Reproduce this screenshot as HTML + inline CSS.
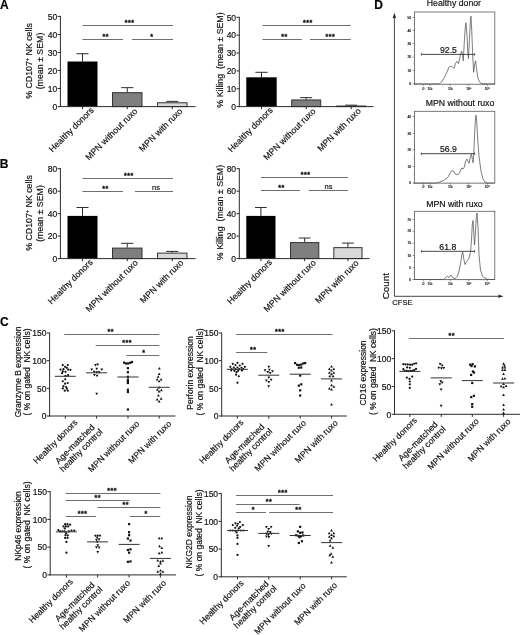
<!DOCTYPE html>
<html lang="en"><head><meta charset="utf-8"><title>Figure</title>
<style>
html,body{margin:0;padding:0;background:#fff;}
body{width:520px;height:635px;overflow:hidden;}
svg{display:block;filter:blur(0.35px);font-family:'Liberation Sans', Arial, sans-serif;}
svg text{stroke:#111;stroke-width:0.18px;font-family:'Liberation Sans', Arial, sans-serif;}
</style></head><body>
<svg width="520" height="635" viewBox="0 0 520 635">
<rect width="520" height="635" fill="#fff"/>
<text x="0.10" y="8.70" font-size="12" text-anchor="start" font-weight="bold" fill="#000" >A</text>
<line x1="82.50" y1="53.74" x2="82.50" y2="61.50" stroke="#2a2a2a" stroke-width="1.0" />
<line x1="76.50" y1="53.74" x2="88.50" y2="53.74" stroke="#2a2a2a" stroke-width="1.0" />
<rect x="67.50" y="61.50" width="30.00" height="45.10" fill="#000"/>
<line x1="82.50" y1="106.60" x2="82.50" y2="109.20" stroke="#2a2a2a" stroke-width="1.0" />
<line x1="127.25" y1="87.66" x2="127.25" y2="92.17" stroke="#2a2a2a" stroke-width="1.0" />
<line x1="121.15" y1="87.66" x2="133.35" y2="87.66" stroke="#2a2a2a" stroke-width="1.0" />
<rect x="112.50" y="92.67" width="29.50" height="13.93" fill="#7f7f7f" stroke="#333" stroke-width="1"/>
<line x1="127.25" y1="106.60" x2="127.25" y2="109.20" stroke="#2a2a2a" stroke-width="1.0" />
<line x1="172.25" y1="101.37" x2="172.25" y2="102.27" stroke="#2a2a2a" stroke-width="1.0" />
<line x1="166.15" y1="101.37" x2="178.35" y2="101.37" stroke="#2a2a2a" stroke-width="1.0" />
<rect x="157.50" y="102.77" width="29.50" height="3.83" fill="#d9d9d9" stroke="#333" stroke-width="1"/>
<line x1="172.25" y1="106.60" x2="172.25" y2="109.20" stroke="#2a2a2a" stroke-width="1.0" />
<line x1="60.40" y1="15.90" x2="60.40" y2="107.10" stroke="#2a2a2a" stroke-width="1.0" />
<line x1="59.90" y1="106.60" x2="195.50" y2="106.60" stroke="#2a2a2a" stroke-width="1.0" />
<line x1="57.60" y1="106.60" x2="60.40" y2="106.60" stroke="#2a2a2a" stroke-width="1.0" />
<text x="57.20" y="109.80" font-size="8.5" text-anchor="end" fill="#111" >0</text>
<line x1="57.60" y1="88.56" x2="60.40" y2="88.56" stroke="#2a2a2a" stroke-width="1.0" />
<text x="57.20" y="91.76" font-size="8.5" text-anchor="end" fill="#111" >10</text>
<line x1="57.60" y1="70.52" x2="60.40" y2="70.52" stroke="#2a2a2a" stroke-width="1.0" />
<text x="57.20" y="73.72" font-size="8.5" text-anchor="end" fill="#111" >20</text>
<line x1="57.60" y1="52.48" x2="60.40" y2="52.48" stroke="#2a2a2a" stroke-width="1.0" />
<text x="57.20" y="55.68" font-size="8.5" text-anchor="end" fill="#111" >30</text>
<line x1="57.60" y1="34.44" x2="60.40" y2="34.44" stroke="#2a2a2a" stroke-width="1.0" />
<text x="57.20" y="37.64" font-size="8.5" text-anchor="end" fill="#111" >40</text>
<line x1="57.60" y1="16.40" x2="60.40" y2="16.40" stroke="#2a2a2a" stroke-width="1.0" />
<text x="57.20" y="19.60" font-size="8.5" text-anchor="end" fill="#111" >50</text>
<text x="32.30" y="61.00" font-size="8.8" text-anchor="middle" transform="rotate(-90 32.30 61.00)" fill="#111" >% CD107<tspan font-size="5.5" dy="-3">+</tspan><tspan dy="3"> </tspan>NK cells</text>
<text x="43.00" y="61.00" font-size="8.8" text-anchor="middle" transform="rotate(-90 43.00 61.00)" fill="#111" >(mean ± SEM)</text>
<line x1="82.50" y1="25.50" x2="173.00" y2="25.50" stroke="#666" stroke-width="0.95" />
<text x="129.65" y="25.00" font-size="7.0" text-anchor="middle" font-weight="bold" fill="#111" style="stroke-width:0.3px;letter-spacing:0.5px">***</text>
<line x1="82.50" y1="39.50" x2="123.00" y2="39.50" stroke="#666" stroke-width="0.95" />
<text x="105.65" y="39.00" font-size="7.0" text-anchor="middle" font-weight="bold" fill="#111" style="stroke-width:0.3px;letter-spacing:0.5px">**</text>
<line x1="132.00" y1="39.50" x2="173.00" y2="39.50" stroke="#666" stroke-width="0.95" />
<text x="151.85" y="39.00" font-size="7.0" text-anchor="middle" font-weight="bold" fill="#111" style="stroke-width:0.3px;letter-spacing:0.5px">*</text>
<text x="94.30" y="110.80" font-size="8.8" text-anchor="end" transform="rotate(-45 94.30 110.80)" fill="#111" >Healthy donors</text>
<text x="138.05" y="111.70" font-size="8.8" text-anchor="end" transform="rotate(-45 138.05 111.70)" fill="#111" >MPN without ruxo</text>
<text x="183.05" y="111.70" font-size="8.8" text-anchor="end" transform="rotate(-45 183.05 111.70)" fill="#111" >MPN with ruxo</text>
<line x1="261.50" y1="72.31" x2="261.50" y2="77.31" stroke="#2a2a2a" stroke-width="1.0" />
<line x1="255.42" y1="72.31" x2="267.58" y2="72.31" stroke="#2a2a2a" stroke-width="1.0" />
<rect x="246.30" y="77.31" width="30.40" height="29.29" fill="#000"/>
<line x1="261.50" y1="106.60" x2="261.50" y2="109.20" stroke="#2a2a2a" stroke-width="1.0" />
<line x1="306.20" y1="97.67" x2="306.20" y2="99.46" stroke="#2a2a2a" stroke-width="1.0" />
<line x1="300.20" y1="97.67" x2="312.20" y2="97.67" stroke="#2a2a2a" stroke-width="1.0" />
<rect x="291.70" y="99.96" width="29.00" height="6.64" fill="#7f7f7f" stroke="#333" stroke-width="1"/>
<line x1="306.20" y1="106.60" x2="306.20" y2="109.20" stroke="#2a2a2a" stroke-width="1.0" />
<line x1="351.20" y1="105.17" x2="351.20" y2="105.53" stroke="#2a2a2a" stroke-width="1.0" />
<line x1="345.20" y1="105.17" x2="357.20" y2="105.17" stroke="#2a2a2a" stroke-width="1.0" />
<rect x="336.70" y="106.03" width="29.00" height="0.57" fill="#d9d9d9" stroke="#333" stroke-width="1"/>
<line x1="351.20" y1="106.60" x2="351.20" y2="109.20" stroke="#2a2a2a" stroke-width="1.0" />
<line x1="239.30" y1="16.80" x2="239.30" y2="107.10" stroke="#2a2a2a" stroke-width="1.0" />
<line x1="238.80" y1="106.60" x2="373.50" y2="106.60" stroke="#2a2a2a" stroke-width="1.0" />
<line x1="236.50" y1="106.60" x2="239.30" y2="106.60" stroke="#2a2a2a" stroke-width="1.0" />
<text x="236.10" y="109.80" font-size="8.5" text-anchor="end" fill="#111" >0</text>
<line x1="236.50" y1="88.74" x2="239.30" y2="88.74" stroke="#2a2a2a" stroke-width="1.0" />
<text x="236.10" y="91.94" font-size="8.5" text-anchor="end" fill="#111" >10</text>
<line x1="236.50" y1="70.88" x2="239.30" y2="70.88" stroke="#2a2a2a" stroke-width="1.0" />
<text x="236.10" y="74.08" font-size="8.5" text-anchor="end" fill="#111" >20</text>
<line x1="236.50" y1="53.02" x2="239.30" y2="53.02" stroke="#2a2a2a" stroke-width="1.0" />
<text x="236.10" y="56.22" font-size="8.5" text-anchor="end" fill="#111" >30</text>
<line x1="236.50" y1="35.16" x2="239.30" y2="35.16" stroke="#2a2a2a" stroke-width="1.0" />
<text x="236.10" y="38.36" font-size="8.5" text-anchor="end" fill="#111" >40</text>
<line x1="236.50" y1="17.30" x2="239.30" y2="17.30" stroke="#2a2a2a" stroke-width="1.0" />
<text x="236.10" y="20.50" font-size="8.5" text-anchor="end" fill="#111" >50</text>
<text x="223.00" y="60.00" font-size="8.8" text-anchor="middle" transform="rotate(-90 223.00 60.00)" fill="#111" >% Killing&#160;&#160;(mean ± SEM)</text>
<line x1="262.50" y1="25.50" x2="350.80" y2="25.50" stroke="#666" stroke-width="0.95" />
<text x="307.85" y="25.00" font-size="7.0" text-anchor="middle" font-weight="bold" fill="#111" style="stroke-width:0.3px;letter-spacing:0.5px">***</text>
<line x1="262.50" y1="39.50" x2="301.80" y2="39.50" stroke="#666" stroke-width="0.95" />
<text x="284.45" y="39.00" font-size="7.0" text-anchor="middle" font-weight="bold" fill="#111" style="stroke-width:0.3px;letter-spacing:0.5px">**</text>
<line x1="310.00" y1="39.50" x2="350.80" y2="39.50" stroke="#666" stroke-width="0.95" />
<text x="330.45" y="39.00" font-size="7.0" text-anchor="middle" font-weight="bold" fill="#111" style="stroke-width:0.3px;letter-spacing:0.5px">***</text>
<text x="273.30" y="110.80" font-size="8.8" text-anchor="end" transform="rotate(-45 273.30 110.80)" fill="#111" >Healthy donors</text>
<text x="316.20" y="111.70" font-size="8.8" text-anchor="end" transform="rotate(-45 316.20 111.70)" fill="#111" >MPN without ruxo</text>
<text x="361.40" y="111.60" font-size="8.8" text-anchor="end" transform="rotate(-45 361.40 111.60)" fill="#111" >MPN with ruxo</text>
<text x="-0.30" y="168.00" font-size="12" text-anchor="start" font-weight="bold" fill="#000" >B</text>
<line x1="82.50" y1="207.47" x2="82.50" y2="215.90" stroke="#2a2a2a" stroke-width="1.0" />
<line x1="76.50" y1="207.47" x2="88.50" y2="207.47" stroke="#2a2a2a" stroke-width="1.0" />
<rect x="67.50" y="215.90" width="30.00" height="42.70" fill="#000"/>
<line x1="82.50" y1="258.60" x2="82.50" y2="261.20" stroke="#2a2a2a" stroke-width="1.0" />
<line x1="127.25" y1="243.32" x2="127.25" y2="247.59" stroke="#2a2a2a" stroke-width="1.0" />
<line x1="121.15" y1="243.32" x2="133.35" y2="243.32" stroke="#2a2a2a" stroke-width="1.0" />
<rect x="112.50" y="248.09" width="29.50" height="10.51" fill="#7f7f7f" stroke="#333" stroke-width="1"/>
<line x1="127.25" y1="258.60" x2="127.25" y2="261.20" stroke="#2a2a2a" stroke-width="1.0" />
<line x1="172.25" y1="251.41" x2="172.25" y2="252.64" stroke="#2a2a2a" stroke-width="1.0" />
<line x1="166.15" y1="251.41" x2="178.35" y2="251.41" stroke="#2a2a2a" stroke-width="1.0" />
<rect x="157.50" y="253.14" width="29.50" height="5.46" fill="#d9d9d9" stroke="#333" stroke-width="1"/>
<line x1="172.25" y1="258.60" x2="172.25" y2="261.20" stroke="#2a2a2a" stroke-width="1.0" />
<line x1="60.40" y1="168.20" x2="60.40" y2="259.10" stroke="#2a2a2a" stroke-width="1.0" />
<line x1="59.90" y1="258.60" x2="195.50" y2="258.60" stroke="#2a2a2a" stroke-width="1.0" />
<line x1="57.60" y1="258.60" x2="60.40" y2="258.60" stroke="#2a2a2a" stroke-width="1.0" />
<text x="57.20" y="261.80" font-size="8.5" text-anchor="end" fill="#111" >0</text>
<line x1="57.60" y1="236.12" x2="60.40" y2="236.12" stroke="#2a2a2a" stroke-width="1.0" />
<text x="57.20" y="239.32" font-size="8.5" text-anchor="end" fill="#111" >20</text>
<line x1="57.60" y1="213.65" x2="60.40" y2="213.65" stroke="#2a2a2a" stroke-width="1.0" />
<text x="57.20" y="216.85" font-size="8.5" text-anchor="end" fill="#111" >40</text>
<line x1="57.60" y1="191.18" x2="60.40" y2="191.18" stroke="#2a2a2a" stroke-width="1.0" />
<text x="57.20" y="194.38" font-size="8.5" text-anchor="end" fill="#111" >60</text>
<line x1="57.60" y1="168.70" x2="60.40" y2="168.70" stroke="#2a2a2a" stroke-width="1.0" />
<text x="57.20" y="171.90" font-size="8.5" text-anchor="end" fill="#111" >80</text>
<text x="32.30" y="213.00" font-size="8.8" text-anchor="middle" transform="rotate(-90 32.30 213.00)" fill="#111" >% CD107<tspan font-size="5.5" dy="-3">+</tspan><tspan dy="3"> </tspan>NK cells</text>
<text x="43.00" y="213.50" font-size="8.8" text-anchor="middle" transform="rotate(-90 43.00 213.50)" fill="#111" >(mean ± SEM)</text>
<line x1="82.50" y1="178.50" x2="173.00" y2="178.50" stroke="#666" stroke-width="0.95" />
<text x="128.80" y="178.00" font-size="7.0" text-anchor="middle" font-weight="bold" fill="#111" style="stroke-width:0.3px;letter-spacing:0.5px">***</text>
<line x1="82.50" y1="191.50" x2="123.00" y2="191.50" stroke="#666" stroke-width="0.95" />
<text x="105.45" y="191.00" font-size="7.0" text-anchor="middle" font-weight="bold" fill="#111" style="stroke-width:0.3px;letter-spacing:0.5px">**</text>
<line x1="135.00" y1="191.50" x2="173.00" y2="191.50" stroke="#666" stroke-width="0.95" />
<text x="156.00" y="190.00" font-size="7.5" text-anchor="middle" fill="#111" >ns</text>
<text x="93.30" y="262.80" font-size="8.8" text-anchor="end" transform="rotate(-45 93.30 262.80)" fill="#111" >Healthy donors</text>
<text x="138.45" y="263.40" font-size="8.8" text-anchor="end" transform="rotate(-45 138.45 263.40)" fill="#111" >MPN without ruxo</text>
<text x="184.05" y="263.30" font-size="8.8" text-anchor="end" transform="rotate(-45 184.05 263.30)" fill="#111" >MPN with ruxo</text>
<line x1="260.90" y1="207.47" x2="260.90" y2="215.90" stroke="#2a2a2a" stroke-width="1.0" />
<line x1="255.06" y1="207.47" x2="266.74" y2="207.47" stroke="#2a2a2a" stroke-width="1.0" />
<rect x="246.30" y="215.90" width="29.20" height="42.70" fill="#000"/>
<line x1="260.90" y1="258.60" x2="260.90" y2="261.20" stroke="#2a2a2a" stroke-width="1.0" />
<line x1="304.65" y1="238.04" x2="304.65" y2="242.08" stroke="#2a2a2a" stroke-width="1.0" />
<line x1="298.79" y1="238.04" x2="310.51" y2="238.04" stroke="#2a2a2a" stroke-width="1.0" />
<rect x="290.50" y="242.58" width="28.30" height="16.02" fill="#7f7f7f" stroke="#333" stroke-width="1"/>
<line x1="304.65" y1="258.60" x2="304.65" y2="261.20" stroke="#2a2a2a" stroke-width="1.0" />
<line x1="347.90" y1="243.09" x2="347.90" y2="247.14" stroke="#2a2a2a" stroke-width="1.0" />
<line x1="342.06" y1="243.09" x2="353.74" y2="243.09" stroke="#2a2a2a" stroke-width="1.0" />
<rect x="333.80" y="247.64" width="28.20" height="10.96" fill="#d9d9d9" stroke="#333" stroke-width="1"/>
<line x1="347.90" y1="258.60" x2="347.90" y2="261.20" stroke="#2a2a2a" stroke-width="1.0" />
<line x1="239.30" y1="168.20" x2="239.30" y2="259.10" stroke="#2a2a2a" stroke-width="1.0" />
<line x1="238.80" y1="258.60" x2="369.50" y2="258.60" stroke="#2a2a2a" stroke-width="1.0" />
<line x1="236.50" y1="258.60" x2="239.30" y2="258.60" stroke="#2a2a2a" stroke-width="1.0" />
<text x="236.10" y="261.80" font-size="8.5" text-anchor="end" fill="#111" >0</text>
<line x1="236.50" y1="236.12" x2="239.30" y2="236.12" stroke="#2a2a2a" stroke-width="1.0" />
<text x="236.10" y="239.32" font-size="8.5" text-anchor="end" fill="#111" >20</text>
<line x1="236.50" y1="213.65" x2="239.30" y2="213.65" stroke="#2a2a2a" stroke-width="1.0" />
<text x="236.10" y="216.85" font-size="8.5" text-anchor="end" fill="#111" >40</text>
<line x1="236.50" y1="191.18" x2="239.30" y2="191.18" stroke="#2a2a2a" stroke-width="1.0" />
<text x="236.10" y="194.38" font-size="8.5" text-anchor="end" fill="#111" >60</text>
<line x1="236.50" y1="168.70" x2="239.30" y2="168.70" stroke="#2a2a2a" stroke-width="1.0" />
<text x="236.10" y="171.90" font-size="8.5" text-anchor="end" fill="#111" >80</text>
<text x="223.00" y="212.50" font-size="8.8" text-anchor="middle" transform="rotate(-90 223.00 212.50)" fill="#111" >% Killing&#160;&#160;(mean ± SEM)</text>
<line x1="261.00" y1="177.50" x2="348.00" y2="177.50" stroke="#666" stroke-width="0.95" />
<text x="305.55" y="177.00" font-size="7.0" text-anchor="middle" font-weight="bold" fill="#111" style="stroke-width:0.3px;letter-spacing:0.5px">***</text>
<line x1="261.00" y1="190.50" x2="300.00" y2="190.50" stroke="#666" stroke-width="0.95" />
<text x="281.55" y="190.00" font-size="7.0" text-anchor="middle" font-weight="bold" fill="#111" style="stroke-width:0.3px;letter-spacing:0.5px">**</text>
<line x1="308.80" y1="190.50" x2="348.00" y2="190.50" stroke="#666" stroke-width="0.95" />
<text x="328.50" y="189.00" font-size="7.5" text-anchor="middle" fill="#111" >ns</text>
<text x="272.70" y="263.00" font-size="8.8" text-anchor="end" transform="rotate(-45 272.70 263.00)" fill="#111" >Healthy donors</text>
<text x="316.45" y="263.30" font-size="8.8" text-anchor="end" transform="rotate(-45 316.45 263.30)" fill="#111" >MPN without ruxo</text>
<text x="359.30" y="263.60" font-size="8.8" text-anchor="end" transform="rotate(-45 359.30 263.60)" fill="#111" >MPN with ruxo</text>
<text x="374.20" y="8.70" font-size="12" text-anchor="start" font-weight="bold" fill="#000" >D</text>
<line x1="394.40" y1="16.00" x2="394.40" y2="296.30" stroke="#333" stroke-width="0.9" />
<path d="M394.4 12.8 L392.6 18.6 L394.4 17.4 L396.2 18.6 Z" fill="#222"/>
<line x1="394.40" y1="296.30" x2="500.00" y2="296.30" stroke="#333" stroke-width="0.9" />
<path d="M503.6 296.3 L497.8 294.5 L499 296.3 L497.8 298.1 Z" fill="#222"/>
<text x="388.90" y="299.20" font-size="9.8" text-anchor="start" transform="rotate(-90 388.90 299.20)" fill="#111" >Count</text>
<text x="392.30" y="305.20" font-size="7.6" text-anchor="start" fill="#111" >CFSE</text>
<rect x="414.40" y="12.00" width="80.40" height="72.20" fill="none" stroke="#5a5a5a" stroke-width="0.8"/>
<text x="453.90" y="6.10" font-size="8.7" text-anchor="middle" fill="#111" >Healthy donor</text>
<line x1="412.40" y1="17.50" x2="414.40" y2="17.50" stroke="#444" stroke-width="0.5" />
<text x="411.20" y="18.65" font-size="3.3" text-anchor="end" fill="#333" >50</text>
<line x1="412.40" y1="30.40" x2="414.40" y2="30.40" stroke="#444" stroke-width="0.5" />
<text x="411.20" y="31.55" font-size="3.3" text-anchor="end" fill="#333" >40</text>
<line x1="412.40" y1="43.50" x2="414.40" y2="43.50" stroke="#444" stroke-width="0.5" />
<text x="411.20" y="44.65" font-size="3.3" text-anchor="end" fill="#333" >30</text>
<line x1="412.40" y1="57.00" x2="414.40" y2="57.00" stroke="#444" stroke-width="0.5" />
<text x="411.20" y="58.15" font-size="3.3" text-anchor="end" fill="#333" >20</text>
<line x1="412.40" y1="70.40" x2="414.40" y2="70.40" stroke="#444" stroke-width="0.5" />
<text x="411.20" y="71.55" font-size="3.3" text-anchor="end" fill="#333" >10</text>
<line x1="412.40" y1="83.80" x2="414.40" y2="83.80" stroke="#444" stroke-width="0.5" />
<text x="411.20" y="84.95" font-size="3.3" text-anchor="end" fill="#333" >0</text>
<line x1="413.30" y1="23.95" x2="414.40" y2="23.95" stroke="#666" stroke-width="0.4" />
<line x1="413.30" y1="36.95" x2="414.40" y2="36.95" stroke="#666" stroke-width="0.4" />
<line x1="413.30" y1="50.25" x2="414.40" y2="50.25" stroke="#666" stroke-width="0.4" />
<line x1="413.30" y1="63.70" x2="414.40" y2="63.70" stroke="#666" stroke-width="0.4" />
<line x1="413.30" y1="77.10" x2="414.40" y2="77.10" stroke="#666" stroke-width="0.4" />
<line x1="423.30" y1="84.20" x2="423.30" y2="86.00" stroke="#444" stroke-width="0.5" />
<text x="423.30" y="89.50" font-size="3.3" text-anchor="middle" fill="#333" >0</text>
<line x1="430.00" y1="84.20" x2="430.00" y2="86.00" stroke="#444" stroke-width="0.5" />
<text x="430.00" y="89.50" font-size="3.3" text-anchor="middle" fill="#333" >10²</text>
<line x1="450.30" y1="84.20" x2="450.30" y2="86.00" stroke="#444" stroke-width="0.5" />
<text x="450.30" y="89.50" font-size="3.3" text-anchor="middle" fill="#333" >10³</text>
<line x1="468.80" y1="84.20" x2="468.80" y2="86.00" stroke="#444" stroke-width="0.5" />
<text x="468.80" y="89.50" font-size="3.3" text-anchor="middle" fill="#333" >10⁴</text>
<line x1="487.30" y1="84.20" x2="487.30" y2="86.00" stroke="#444" stroke-width="0.5" />
<text x="487.30" y="89.50" font-size="3.3" text-anchor="middle" fill="#333" >10⁵</text>
<line x1="436.11" y1="84.20" x2="436.11" y2="85.20" stroke="#777" stroke-width="0.3" />
<line x1="439.69" y1="84.20" x2="439.69" y2="85.20" stroke="#777" stroke-width="0.3" />
<line x1="442.22" y1="84.20" x2="442.22" y2="85.20" stroke="#777" stroke-width="0.3" />
<line x1="444.19" y1="84.20" x2="444.19" y2="85.20" stroke="#777" stroke-width="0.3" />
<line x1="445.80" y1="84.20" x2="445.80" y2="85.20" stroke="#777" stroke-width="0.3" />
<line x1="447.16" y1="84.20" x2="447.16" y2="85.20" stroke="#777" stroke-width="0.3" />
<line x1="448.33" y1="84.20" x2="448.33" y2="85.20" stroke="#777" stroke-width="0.3" />
<line x1="449.37" y1="84.20" x2="449.37" y2="85.20" stroke="#777" stroke-width="0.3" />
<line x1="455.87" y1="84.20" x2="455.87" y2="85.20" stroke="#777" stroke-width="0.3" />
<line x1="459.13" y1="84.20" x2="459.13" y2="85.20" stroke="#777" stroke-width="0.3" />
<line x1="461.44" y1="84.20" x2="461.44" y2="85.20" stroke="#777" stroke-width="0.3" />
<line x1="463.23" y1="84.20" x2="463.23" y2="85.20" stroke="#777" stroke-width="0.3" />
<line x1="464.70" y1="84.20" x2="464.70" y2="85.20" stroke="#777" stroke-width="0.3" />
<line x1="465.93" y1="84.20" x2="465.93" y2="85.20" stroke="#777" stroke-width="0.3" />
<line x1="467.01" y1="84.20" x2="467.01" y2="85.20" stroke="#777" stroke-width="0.3" />
<line x1="467.95" y1="84.20" x2="467.95" y2="85.20" stroke="#777" stroke-width="0.3" />
<line x1="474.37" y1="84.20" x2="474.37" y2="85.20" stroke="#777" stroke-width="0.3" />
<line x1="477.63" y1="84.20" x2="477.63" y2="85.20" stroke="#777" stroke-width="0.3" />
<line x1="479.94" y1="84.20" x2="479.94" y2="85.20" stroke="#777" stroke-width="0.3" />
<line x1="481.73" y1="84.20" x2="481.73" y2="85.20" stroke="#777" stroke-width="0.3" />
<line x1="483.20" y1="84.20" x2="483.20" y2="85.20" stroke="#777" stroke-width="0.3" />
<line x1="484.43" y1="84.20" x2="484.43" y2="85.20" stroke="#777" stroke-width="0.3" />
<line x1="485.51" y1="84.20" x2="485.51" y2="85.20" stroke="#777" stroke-width="0.3" />
<line x1="486.45" y1="84.20" x2="486.45" y2="85.20" stroke="#777" stroke-width="0.3" />
<path d="M414.23 83.85 L439.62 83.85 L441.54 81.92 L443.46 79.04 L445.38 75.19 L447.31 71.35 L448.85 67.50 L450.19 66.15 L452.12 66.54 L454.04 68.46 L455.38 63.65 L456.92 61.35 L458.46 63.65 L459.62 58.85 L460.77 53.08 L461.73 51.15 L462.69 55.96 L463.27 60.77 L464.23 43.46 L465.19 28.08 L465.96 22.69 L466.92 33.85 L467.88 53.08 L468.46 58.46 L469.42 39.62 L470.38 20.38 L470.96 16.15 L471.73 30.00 L472.69 55.00 L473.65 72.31 L474.62 64.62 L475.58 60.77 L476.54 68.46 L477.69 77.12 L479.04 80.96 L480.96 83.46 L483.85 83.85 L495.00 83.85" fill="none" stroke="#505050" stroke-width="0.75" stroke-linejoin="round"/>
<line x1="421.40" y1="54.40" x2="474.60" y2="54.40" stroke="#333" stroke-width="0.9" />
<line x1="421.40" y1="53.20" x2="421.40" y2="55.60" stroke="#333" stroke-width="0.8" />
<line x1="474.60" y1="53.20" x2="474.60" y2="55.60" stroke="#333" stroke-width="0.8" />
<text x="448.50" y="52.80" font-size="8.7" text-anchor="middle" fill="#111" >92.5</text>
<rect x="414.40" y="111.30" width="80.40" height="71.80" fill="none" stroke="#5a5a5a" stroke-width="0.8"/>
<text x="460.00" y="106.00" font-size="8.7" text-anchor="middle" fill="#111" >MPN without ruxo</text>
<line x1="412.40" y1="116.50" x2="414.40" y2="116.50" stroke="#444" stroke-width="0.5" />
<text x="411.20" y="117.65" font-size="3.3" text-anchor="end" fill="#333" >40</text>
<line x1="412.40" y1="133.50" x2="414.40" y2="133.50" stroke="#444" stroke-width="0.5" />
<text x="411.20" y="134.65" font-size="3.3" text-anchor="end" fill="#333" >30</text>
<line x1="412.40" y1="149.80" x2="414.40" y2="149.80" stroke="#444" stroke-width="0.5" />
<text x="411.20" y="150.95" font-size="3.3" text-anchor="end" fill="#333" >20</text>
<line x1="412.40" y1="166.50" x2="414.40" y2="166.50" stroke="#444" stroke-width="0.5" />
<text x="411.20" y="167.65" font-size="3.3" text-anchor="end" fill="#333" >10</text>
<line x1="412.40" y1="183.00" x2="414.40" y2="183.00" stroke="#444" stroke-width="0.5" />
<text x="411.20" y="184.15" font-size="3.3" text-anchor="end" fill="#333" >0</text>
<line x1="413.30" y1="125.00" x2="414.40" y2="125.00" stroke="#666" stroke-width="0.4" />
<line x1="413.30" y1="141.65" x2="414.40" y2="141.65" stroke="#666" stroke-width="0.4" />
<line x1="413.30" y1="158.15" x2="414.40" y2="158.15" stroke="#666" stroke-width="0.4" />
<line x1="413.30" y1="174.75" x2="414.40" y2="174.75" stroke="#666" stroke-width="0.4" />
<line x1="423.30" y1="183.10" x2="423.30" y2="184.90" stroke="#444" stroke-width="0.5" />
<text x="423.30" y="188.40" font-size="3.3" text-anchor="middle" fill="#333" >0</text>
<line x1="430.00" y1="183.10" x2="430.00" y2="184.90" stroke="#444" stroke-width="0.5" />
<text x="430.00" y="188.40" font-size="3.3" text-anchor="middle" fill="#333" >10²</text>
<line x1="450.30" y1="183.10" x2="450.30" y2="184.90" stroke="#444" stroke-width="0.5" />
<text x="450.30" y="188.40" font-size="3.3" text-anchor="middle" fill="#333" >10³</text>
<line x1="468.80" y1="183.10" x2="468.80" y2="184.90" stroke="#444" stroke-width="0.5" />
<text x="468.80" y="188.40" font-size="3.3" text-anchor="middle" fill="#333" >10⁴</text>
<line x1="487.30" y1="183.10" x2="487.30" y2="184.90" stroke="#444" stroke-width="0.5" />
<text x="487.30" y="188.40" font-size="3.3" text-anchor="middle" fill="#333" >10⁵</text>
<line x1="436.11" y1="183.10" x2="436.11" y2="184.10" stroke="#777" stroke-width="0.3" />
<line x1="439.69" y1="183.10" x2="439.69" y2="184.10" stroke="#777" stroke-width="0.3" />
<line x1="442.22" y1="183.10" x2="442.22" y2="184.10" stroke="#777" stroke-width="0.3" />
<line x1="444.19" y1="183.10" x2="444.19" y2="184.10" stroke="#777" stroke-width="0.3" />
<line x1="445.80" y1="183.10" x2="445.80" y2="184.10" stroke="#777" stroke-width="0.3" />
<line x1="447.16" y1="183.10" x2="447.16" y2="184.10" stroke="#777" stroke-width="0.3" />
<line x1="448.33" y1="183.10" x2="448.33" y2="184.10" stroke="#777" stroke-width="0.3" />
<line x1="449.37" y1="183.10" x2="449.37" y2="184.10" stroke="#777" stroke-width="0.3" />
<line x1="455.87" y1="183.10" x2="455.87" y2="184.10" stroke="#777" stroke-width="0.3" />
<line x1="459.13" y1="183.10" x2="459.13" y2="184.10" stroke="#777" stroke-width="0.3" />
<line x1="461.44" y1="183.10" x2="461.44" y2="184.10" stroke="#777" stroke-width="0.3" />
<line x1="463.23" y1="183.10" x2="463.23" y2="184.10" stroke="#777" stroke-width="0.3" />
<line x1="464.70" y1="183.10" x2="464.70" y2="184.10" stroke="#777" stroke-width="0.3" />
<line x1="465.93" y1="183.10" x2="465.93" y2="184.10" stroke="#777" stroke-width="0.3" />
<line x1="467.01" y1="183.10" x2="467.01" y2="184.10" stroke="#777" stroke-width="0.3" />
<line x1="467.95" y1="183.10" x2="467.95" y2="184.10" stroke="#777" stroke-width="0.3" />
<line x1="474.37" y1="183.10" x2="474.37" y2="184.10" stroke="#777" stroke-width="0.3" />
<line x1="477.63" y1="183.10" x2="477.63" y2="184.10" stroke="#777" stroke-width="0.3" />
<line x1="479.94" y1="183.10" x2="479.94" y2="184.10" stroke="#777" stroke-width="0.3" />
<line x1="481.73" y1="183.10" x2="481.73" y2="184.10" stroke="#777" stroke-width="0.3" />
<line x1="483.20" y1="183.10" x2="483.20" y2="184.10" stroke="#777" stroke-width="0.3" />
<line x1="484.43" y1="183.10" x2="484.43" y2="184.10" stroke="#777" stroke-width="0.3" />
<line x1="485.51" y1="183.10" x2="485.51" y2="184.10" stroke="#777" stroke-width="0.3" />
<line x1="486.45" y1="183.10" x2="486.45" y2="184.10" stroke="#777" stroke-width="0.3" />
<path d="M413.65 183.08 L435.77 183.08 L439.62 181.92 L443.46 180.58 L446.35 178.65 L448.27 176.73 L450.19 172.88 L451.73 170.58 L453.46 170.96 L455.00 173.85 L456.92 174.81 L458.85 173.85 L460.38 170.96 L461.73 168.08 L463.08 169.04 L464.23 167.12 L465.58 161.35 L466.92 159.04 L468.08 161.35 L469.04 163.27 L470.38 156.54 L471.54 154.23 L472.31 159.42 L473.08 162.69 L473.85 152.69 L474.62 133.46 L475.38 120.00 L475.96 115.19 L476.73 121.92 L477.69 139.23 L479.04 156.54 L480.96 170.96 L482.88 178.65 L484.81 181.92 L487.69 183.08 L494.42 183.08" fill="none" stroke="#505050" stroke-width="0.75" stroke-linejoin="round"/>
<line x1="421.40" y1="153.70" x2="474.60" y2="153.70" stroke="#333" stroke-width="0.9" />
<line x1="421.40" y1="152.50" x2="421.40" y2="154.90" stroke="#333" stroke-width="0.8" />
<line x1="474.60" y1="152.50" x2="474.60" y2="154.90" stroke="#333" stroke-width="0.8" />
<text x="448.50" y="152.10" font-size="8.7" text-anchor="middle" fill="#111" >56.9</text>
<rect x="414.40" y="211.30" width="80.40" height="68.20" fill="none" stroke="#5a5a5a" stroke-width="0.8"/>
<text x="454.40" y="206.50" font-size="8.7" text-anchor="middle" fill="#111" >MPN with ruxo</text>
<line x1="412.40" y1="219.50" x2="414.40" y2="219.50" stroke="#444" stroke-width="0.5" />
<text x="411.20" y="220.65" font-size="3.3" text-anchor="end" fill="#333" >25</text>
<line x1="412.40" y1="231.30" x2="414.40" y2="231.30" stroke="#444" stroke-width="0.5" />
<text x="411.20" y="232.45" font-size="3.3" text-anchor="end" fill="#333" >20</text>
<line x1="412.40" y1="243.30" x2="414.40" y2="243.30" stroke="#444" stroke-width="0.5" />
<text x="411.20" y="244.45" font-size="3.3" text-anchor="end" fill="#333" >15</text>
<line x1="412.40" y1="255.50" x2="414.40" y2="255.50" stroke="#444" stroke-width="0.5" />
<text x="411.20" y="256.65" font-size="3.3" text-anchor="end" fill="#333" >10</text>
<line x1="412.40" y1="267.50" x2="414.40" y2="267.50" stroke="#444" stroke-width="0.5" />
<text x="411.20" y="268.65" font-size="3.3" text-anchor="end" fill="#333" >5</text>
<line x1="412.40" y1="279.50" x2="414.40" y2="279.50" stroke="#444" stroke-width="0.5" />
<text x="411.20" y="280.65" font-size="3.3" text-anchor="end" fill="#333" >0</text>
<line x1="413.30" y1="225.40" x2="414.40" y2="225.40" stroke="#666" stroke-width="0.4" />
<line x1="413.30" y1="237.30" x2="414.40" y2="237.30" stroke="#666" stroke-width="0.4" />
<line x1="413.30" y1="249.40" x2="414.40" y2="249.40" stroke="#666" stroke-width="0.4" />
<line x1="413.30" y1="261.50" x2="414.40" y2="261.50" stroke="#666" stroke-width="0.4" />
<line x1="413.30" y1="273.50" x2="414.40" y2="273.50" stroke="#666" stroke-width="0.4" />
<line x1="423.30" y1="279.50" x2="423.30" y2="281.30" stroke="#444" stroke-width="0.5" />
<text x="423.30" y="284.80" font-size="3.3" text-anchor="middle" fill="#333" >0</text>
<line x1="430.00" y1="279.50" x2="430.00" y2="281.30" stroke="#444" stroke-width="0.5" />
<text x="430.00" y="284.80" font-size="3.3" text-anchor="middle" fill="#333" >10²</text>
<line x1="450.30" y1="279.50" x2="450.30" y2="281.30" stroke="#444" stroke-width="0.5" />
<text x="450.30" y="284.80" font-size="3.3" text-anchor="middle" fill="#333" >10³</text>
<line x1="468.80" y1="279.50" x2="468.80" y2="281.30" stroke="#444" stroke-width="0.5" />
<text x="468.80" y="284.80" font-size="3.3" text-anchor="middle" fill="#333" >10⁴</text>
<line x1="487.30" y1="279.50" x2="487.30" y2="281.30" stroke="#444" stroke-width="0.5" />
<text x="487.30" y="284.80" font-size="3.3" text-anchor="middle" fill="#333" >10⁵</text>
<line x1="436.11" y1="279.50" x2="436.11" y2="280.50" stroke="#777" stroke-width="0.3" />
<line x1="439.69" y1="279.50" x2="439.69" y2="280.50" stroke="#777" stroke-width="0.3" />
<line x1="442.22" y1="279.50" x2="442.22" y2="280.50" stroke="#777" stroke-width="0.3" />
<line x1="444.19" y1="279.50" x2="444.19" y2="280.50" stroke="#777" stroke-width="0.3" />
<line x1="445.80" y1="279.50" x2="445.80" y2="280.50" stroke="#777" stroke-width="0.3" />
<line x1="447.16" y1="279.50" x2="447.16" y2="280.50" stroke="#777" stroke-width="0.3" />
<line x1="448.33" y1="279.50" x2="448.33" y2="280.50" stroke="#777" stroke-width="0.3" />
<line x1="449.37" y1="279.50" x2="449.37" y2="280.50" stroke="#777" stroke-width="0.3" />
<line x1="455.87" y1="279.50" x2="455.87" y2="280.50" stroke="#777" stroke-width="0.3" />
<line x1="459.13" y1="279.50" x2="459.13" y2="280.50" stroke="#777" stroke-width="0.3" />
<line x1="461.44" y1="279.50" x2="461.44" y2="280.50" stroke="#777" stroke-width="0.3" />
<line x1="463.23" y1="279.50" x2="463.23" y2="280.50" stroke="#777" stroke-width="0.3" />
<line x1="464.70" y1="279.50" x2="464.70" y2="280.50" stroke="#777" stroke-width="0.3" />
<line x1="465.93" y1="279.50" x2="465.93" y2="280.50" stroke="#777" stroke-width="0.3" />
<line x1="467.01" y1="279.50" x2="467.01" y2="280.50" stroke="#777" stroke-width="0.3" />
<line x1="467.95" y1="279.50" x2="467.95" y2="280.50" stroke="#777" stroke-width="0.3" />
<line x1="474.37" y1="279.50" x2="474.37" y2="280.50" stroke="#777" stroke-width="0.3" />
<line x1="477.63" y1="279.50" x2="477.63" y2="280.50" stroke="#777" stroke-width="0.3" />
<line x1="479.94" y1="279.50" x2="479.94" y2="280.50" stroke="#777" stroke-width="0.3" />
<line x1="481.73" y1="279.50" x2="481.73" y2="280.50" stroke="#777" stroke-width="0.3" />
<line x1="483.20" y1="279.50" x2="483.20" y2="280.50" stroke="#777" stroke-width="0.3" />
<line x1="484.43" y1="279.50" x2="484.43" y2="280.50" stroke="#777" stroke-width="0.3" />
<line x1="485.51" y1="279.50" x2="485.51" y2="280.50" stroke="#777" stroke-width="0.3" />
<line x1="486.45" y1="279.50" x2="486.45" y2="280.50" stroke="#777" stroke-width="0.3" />
<path d="M413.75 279.50 L443.75 279.50 L445.50 277.50 L447.50 276.25 L449.00 277.50 L450.75 275.00 L452.50 277.50 L455.00 278.75 L457.50 276.25 L459.25 270.00 L460.75 262.50 L462.00 253.75 L462.75 252.00 L463.75 258.75 L465.00 264.50 L466.75 261.25 L468.75 258.75 L470.50 252.50 L471.50 240.00 L472.25 225.00 L473.00 220.50 L473.75 232.50 L474.50 245.00 L475.25 235.00 L476.25 217.50 L477.00 213.00 L478.00 227.50 L479.00 255.00 L480.50 270.00 L482.50 276.25 L485.00 278.00 L487.50 279.25 L490.00 279.50 L495.00 279.50" fill="none" stroke="#505050" stroke-width="0.75" stroke-linejoin="round"/>
<line x1="421.40" y1="251.30" x2="474.60" y2="251.30" stroke="#333" stroke-width="0.9" />
<line x1="421.40" y1="250.10" x2="421.40" y2="252.50" stroke="#333" stroke-width="0.8" />
<line x1="474.60" y1="250.10" x2="474.60" y2="252.50" stroke="#333" stroke-width="0.8" />
<text x="447.80" y="249.70" font-size="8.7" text-anchor="middle" fill="#111" >61.8</text>
<text x="0.00" y="326.00" font-size="12" text-anchor="start" font-weight="bold" fill="#000" >C</text>
<line x1="49.60" y1="332.50" x2="49.60" y2="416.50" stroke="#2a2a2a" stroke-width="1.0" />
<line x1="49.10" y1="416.00" x2="175.50" y2="416.00" stroke="#2a2a2a" stroke-width="1.0" />
<line x1="46.80" y1="416.00" x2="49.60" y2="416.00" stroke="#2a2a2a" stroke-width="1.0" />
<text x="46.40" y="419.20" font-size="8.5" text-anchor="end" fill="#111" >0</text>
<line x1="46.80" y1="388.33" x2="49.60" y2="388.33" stroke="#2a2a2a" stroke-width="1.0" />
<text x="46.40" y="391.53" font-size="8.5" text-anchor="end" fill="#111" >50</text>
<line x1="46.80" y1="360.67" x2="49.60" y2="360.67" stroke="#2a2a2a" stroke-width="1.0" />
<text x="46.40" y="363.87" font-size="8.5" text-anchor="end" fill="#111" >100</text>
<line x1="46.80" y1="333.00" x2="49.60" y2="333.00" stroke="#2a2a2a" stroke-width="1.0" />
<text x="46.40" y="336.20" font-size="8.5" text-anchor="end" fill="#111" >150</text>
<line x1="65.30" y1="416.00" x2="65.30" y2="418.60" stroke="#2a2a2a" stroke-width="1.0" />
<circle cx="62.79" cy="365.09" r="1.1" fill="#111"/>
<circle cx="67.77" cy="365.09" r="1.1" fill="#111"/>
<circle cx="65.07" cy="366.84" r="1.1" fill="#111"/>
<circle cx="66.82" cy="367.79" r="1.1" fill="#111"/>
<circle cx="60.50" cy="369.54" r="1.1" fill="#111"/>
<circle cx="63.46" cy="369.13" r="1.1" fill="#111"/>
<circle cx="68.17" cy="369.54" r="1.1" fill="#111"/>
<circle cx="70.46" cy="369.80" r="1.1" fill="#111"/>
<circle cx="62.79" cy="371.42" r="1.1" fill="#111"/>
<circle cx="65.48" cy="371.82" r="1.1" fill="#111"/>
<circle cx="62.11" cy="373.17" r="1.1" fill="#111"/>
<circle cx="68.17" cy="375.19" r="1.1" fill="#111"/>
<circle cx="65.48" cy="375.86" r="1.1" fill="#111"/>
<circle cx="65.21" cy="379.23" r="1.1" fill="#111"/>
<circle cx="62.79" cy="381.24" r="1.1" fill="#111"/>
<circle cx="67.77" cy="382.99" r="1.1" fill="#111"/>
<circle cx="65.07" cy="383.67" r="1.1" fill="#111"/>
<circle cx="63.46" cy="386.22" r="1.1" fill="#111"/>
<circle cx="66.15" cy="387.03" r="1.1" fill="#111"/>
<circle cx="62.79" cy="388.38" r="1.1" fill="#111"/>
<circle cx="66.82" cy="388.65" r="1.1" fill="#111"/>
<circle cx="64.80" cy="390.67" r="1.1" fill="#111"/>
<circle cx="67.77" cy="390.67" r="1.1" fill="#111"/>
<line x1="54.80" y1="376.30" x2="75.80" y2="376.30" stroke="#333" stroke-width="1.0" />
<line x1="96.60" y1="416.00" x2="96.60" y2="418.60" stroke="#2a2a2a" stroke-width="1.0" />
<path d="M94.09 363.99 L96.89 363.99 L95.49 366.49 Z" fill="#111"/>
<path d="M96.38 363.59 L99.18 363.59 L97.78 366.09 Z" fill="#111"/>
<path d="M90.32 368.44 L93.12 368.44 L91.72 370.94 Z" fill="#111"/>
<path d="M95.30 367.76 L98.10 367.76 L96.70 370.26 Z" fill="#111"/>
<path d="M100.42 368.44 L103.22 368.44 L101.82 370.94 Z" fill="#111"/>
<path d="M92.75 370.72 L95.55 370.72 L94.15 373.22 Z" fill="#111"/>
<path d="M95.44 371.13 L98.24 371.13 L96.84 373.63 Z" fill="#111"/>
<path d="M97.73 371.13 L100.53 371.13 L99.13 373.63 Z" fill="#111"/>
<path d="M93.01 374.09 L95.81 374.09 L94.41 376.59 Z" fill="#111"/>
<path d="M95.71 374.76 L98.51 374.76 L97.11 377.26 Z" fill="#111"/>
<path d="M95.30 392.66 L98.10 392.66 L96.70 395.16 Z" fill="#111"/>
<line x1="86.10" y1="372.80" x2="107.10" y2="372.80" stroke="#333" stroke-width="1.0" />
<line x1="128.00" y1="416.00" x2="128.00" y2="418.60" stroke="#2a2a2a" stroke-width="1.0" />
<rect x="123.03" y="361.57" width="2.2" height="2.2" fill="#111"/>
<rect x="125.05" y="362.38" width="2.2" height="2.2" fill="#111"/>
<rect x="127.07" y="362.38" width="2.2" height="2.2" fill="#111"/>
<rect x="129.09" y="361.71" width="2.2" height="2.2" fill="#111"/>
<rect x="130.84" y="360.90" width="2.2" height="2.2" fill="#111"/>
<rect x="126.80" y="367.09" width="2.2" height="2.2" fill="#111"/>
<rect x="126.80" y="371.13" width="2.2" height="2.2" fill="#111"/>
<rect x="126.80" y="375.70" width="2.2" height="2.2" fill="#111"/>
<rect x="126.80" y="378.53" width="2.2" height="2.2" fill="#111"/>
<rect x="126.80" y="380.14" width="2.2" height="2.2" fill="#111"/>
<rect x="126.80" y="381.89" width="2.2" height="2.2" fill="#111"/>
<rect x="126.80" y="388.62" width="2.2" height="2.2" fill="#111"/>
<rect x="126.80" y="390.91" width="2.2" height="2.2" fill="#111"/>
<rect x="126.80" y="408.41" width="2.2" height="2.2" fill="#111"/>
<line x1="117.50" y1="377.00" x2="138.50" y2="377.00" stroke="#333" stroke-width="1.0" />
<line x1="159.20" y1="416.00" x2="159.20" y2="418.60" stroke="#2a2a2a" stroke-width="1.0" />
<path d="M157.99 369.56 L160.79 369.56 L159.39 367.06 Z" fill="#111"/>
<path d="M157.73 374.94 L160.53 374.94 L159.13 372.44 Z" fill="#111"/>
<path d="M156.78 377.63 L159.58 377.63 L158.18 375.13 Z" fill="#111"/>
<path d="M155.71 380.60 L158.51 380.60 L157.11 378.10 Z" fill="#111"/>
<path d="M159.74 380.60 L162.54 380.60 L161.14 378.10 Z" fill="#111"/>
<path d="M157.73 382.34 L160.53 382.34 L159.13 379.84 Z" fill="#111"/>
<path d="M157.73 388.40 L160.53 388.40 L159.13 385.90 Z" fill="#111"/>
<path d="M155.98 390.82 L158.78 390.82 L157.38 388.32 Z" fill="#111"/>
<path d="M160.01 391.36 L162.81 391.36 L161.41 388.86 Z" fill="#111"/>
<path d="M157.73 392.44 L160.53 392.44 L159.13 389.94 Z" fill="#111"/>
<path d="M157.05 396.48 L159.85 396.48 L158.45 393.98 Z" fill="#111"/>
<path d="M155.71 400.51 L158.51 400.51 L157.11 398.01 Z" fill="#111"/>
<path d="M159.74 399.84 L162.54 399.84 L161.14 397.34 Z" fill="#111"/>
<path d="M157.73 402.53 L160.53 402.53 L159.13 400.03 Z" fill="#111"/>
<line x1="148.70" y1="387.30" x2="169.70" y2="387.30" stroke="#333" stroke-width="1.0" />
<text x="21.00" y="372.00" font-size="8.5" text-anchor="middle" transform="rotate(-90 21.00 372.00)" fill="#111" >Granzyme B expression</text>
<text x="30.00" y="372.00" font-size="8.5" text-anchor="middle" transform="rotate(-90 30.00 372.00)" fill="#111" >( % on gated&#160;&#160;NK cells)</text>
<line x1="64.20" y1="334.50" x2="159.30" y2="334.50" stroke="#666" stroke-width="0.95" />
<text x="110.85" y="334.00" font-size="7.0" text-anchor="middle" font-weight="bold" fill="#111" style="stroke-width:0.3px;letter-spacing:0.5px">**</text>
<line x1="95.70" y1="345.50" x2="159.30" y2="345.50" stroke="#666" stroke-width="0.95" />
<text x="127.05" y="345.00" font-size="7.0" text-anchor="middle" font-weight="bold" fill="#111" style="stroke-width:0.3px;letter-spacing:0.5px">***</text>
<line x1="126.40" y1="355.50" x2="159.30" y2="355.50" stroke="#666" stroke-width="0.95" />
<text x="143.95" y="355.00" font-size="7.0" text-anchor="middle" font-weight="bold" fill="#111" style="stroke-width:0.3px;letter-spacing:0.5px">*</text>
<text x="78.20" y="423.00" font-size="8.7" text-anchor="end" transform="rotate(-45 78.20 423.00)" fill="#111" >Healthy donors</text>
<text x="83.20" y="452.40" font-size="8.7" text-anchor="middle" transform="rotate(-45 83.20 452.40)" fill="#111" >healthy control</text>
<text x="76.90" y="446.11" font-size="8.7" text-anchor="middle" transform="rotate(-45 76.90 446.11)" fill="#111" >Age-matched</text>
<text x="140.00" y="424.30" font-size="8.7" text-anchor="end" transform="rotate(-45 140.00 424.30)" fill="#111" >MPN without ruxo</text>
<text x="171.80" y="424.30" font-size="8.7" text-anchor="end" transform="rotate(-45 171.80 424.30)" fill="#111" >MPN with ruxo</text>
<line x1="221.70" y1="332.50" x2="221.70" y2="416.50" stroke="#2a2a2a" stroke-width="1.0" />
<line x1="221.20" y1="416.00" x2="346.80" y2="416.00" stroke="#2a2a2a" stroke-width="1.0" />
<line x1="218.90" y1="416.00" x2="221.70" y2="416.00" stroke="#2a2a2a" stroke-width="1.0" />
<text x="218.50" y="419.20" font-size="8.5" text-anchor="end" fill="#111" >0</text>
<line x1="218.90" y1="388.33" x2="221.70" y2="388.33" stroke="#2a2a2a" stroke-width="1.0" />
<text x="218.50" y="391.53" font-size="8.5" text-anchor="end" fill="#111" >50</text>
<line x1="218.90" y1="360.67" x2="221.70" y2="360.67" stroke="#2a2a2a" stroke-width="1.0" />
<text x="218.50" y="363.87" font-size="8.5" text-anchor="end" fill="#111" >100</text>
<line x1="218.90" y1="333.00" x2="221.70" y2="333.00" stroke="#2a2a2a" stroke-width="1.0" />
<text x="218.50" y="336.20" font-size="8.5" text-anchor="end" fill="#111" >150</text>
<line x1="237.30" y1="416.00" x2="237.30" y2="418.60" stroke="#2a2a2a" stroke-width="1.0" />
<circle cx="237.48" cy="362.79" r="1.1" fill="#111"/>
<circle cx="232.77" cy="363.86" r="1.1" fill="#111"/>
<circle cx="242.46" cy="363.86" r="1.1" fill="#111"/>
<circle cx="235.46" cy="365.07" r="1.1" fill="#111"/>
<circle cx="239.77" cy="365.48" r="1.1" fill="#111"/>
<circle cx="230.34" cy="366.82" r="1.1" fill="#111"/>
<circle cx="244.88" cy="366.82" r="1.1" fill="#111"/>
<circle cx="233.84" cy="367.50" r="1.1" fill="#111"/>
<circle cx="237.48" cy="367.50" r="1.1" fill="#111"/>
<circle cx="241.52" cy="367.77" r="1.1" fill="#111"/>
<circle cx="231.69" cy="369.11" r="1.1" fill="#111"/>
<circle cx="235.46" cy="369.11" r="1.1" fill="#111"/>
<circle cx="239.23" cy="369.11" r="1.1" fill="#111"/>
<circle cx="243.27" cy="369.11" r="1.1" fill="#111"/>
<circle cx="231.15" cy="370.46" r="1.1" fill="#111"/>
<circle cx="234.38" cy="370.86" r="1.1" fill="#111"/>
<circle cx="238.15" cy="370.86" r="1.1" fill="#111"/>
<circle cx="241.92" cy="370.46" r="1.1" fill="#111"/>
<circle cx="236.54" cy="372.21" r="1.1" fill="#111"/>
<circle cx="236.13" cy="374.63" r="1.1" fill="#111"/>
<circle cx="238.82" cy="376.24" r="1.1" fill="#111"/>
<circle cx="237.48" cy="382.71" r="1.1" fill="#111"/>
<line x1="226.80" y1="369.30" x2="247.80" y2="369.30" stroke="#333" stroke-width="1.0" />
<line x1="268.80" y1="416.00" x2="268.80" y2="418.60" stroke="#2a2a2a" stroke-width="1.0" />
<path d="M267.44 365.72 L270.24 365.72 L268.84 368.22 Z" fill="#111"/>
<path d="M263.67 369.36 L266.47 369.36 L265.07 371.86 Z" fill="#111"/>
<path d="M267.98 368.82 L270.78 368.82 L269.38 371.32 Z" fill="#111"/>
<path d="M271.07 370.17 L273.87 370.17 L272.47 372.67 Z" fill="#111"/>
<path d="M266.36 371.11 L269.16 371.11 L267.76 373.61 Z" fill="#111"/>
<path d="M268.78 372.05 L271.58 372.05 L270.18 374.55 Z" fill="#111"/>
<path d="M267.44 376.49 L270.24 376.49 L268.84 378.99 Z" fill="#111"/>
<path d="M269.73 378.78 L272.53 378.78 L271.13 381.28 Z" fill="#111"/>
<path d="M265.01 379.59 L267.81 379.59 L266.41 382.09 Z" fill="#111"/>
<path d="M267.44 380.93 L270.24 380.93 L268.84 383.43 Z" fill="#111"/>
<path d="M267.30 385.24 L270.10 385.24 L268.70 387.74 Z" fill="#111"/>
<line x1="258.30" y1="375.20" x2="279.30" y2="375.20" stroke="#333" stroke-width="1.0" />
<line x1="300.20" y1="416.00" x2="300.20" y2="418.60" stroke="#2a2a2a" stroke-width="1.0" />
<rect x="293.96" y="361.96" width="2.2" height="2.2" fill="#111"/>
<rect x="295.97" y="363.70" width="2.2" height="2.2" fill="#111"/>
<rect x="298.13" y="363.97" width="2.2" height="2.2" fill="#111"/>
<rect x="300.15" y="363.44" width="2.2" height="2.2" fill="#111"/>
<rect x="302.17" y="362.36" width="2.2" height="2.2" fill="#111"/>
<rect x="304.05" y="361.96" width="2.2" height="2.2" fill="#111"/>
<rect x="297.72" y="366.67" width="2.2" height="2.2" fill="#111"/>
<rect x="300.15" y="366.40" width="2.2" height="2.2" fill="#111"/>
<rect x="299.07" y="374.47" width="2.2" height="2.2" fill="#111"/>
<rect x="300.15" y="383.22" width="2.2" height="2.2" fill="#111"/>
<rect x="297.72" y="384.57" width="2.2" height="2.2" fill="#111"/>
<rect x="299.07" y="389.28" width="2.2" height="2.2" fill="#111"/>
<rect x="299.07" y="394.39" width="2.2" height="2.2" fill="#111"/>
<line x1="289.70" y1="374.20" x2="310.70" y2="374.20" stroke="#333" stroke-width="1.0" />
<line x1="331.60" y1="416.00" x2="331.60" y2="418.60" stroke="#2a2a2a" stroke-width="1.0" />
<path d="M330.13 367.52 L332.93 367.52 L331.53 365.02 Z" fill="#111"/>
<path d="M327.98 369.94 L330.78 369.94 L329.38 367.44 Z" fill="#111"/>
<path d="M332.42 369.94 L335.22 369.94 L333.82 367.44 Z" fill="#111"/>
<path d="M330.13 371.56 L332.93 371.56 L331.53 369.06 Z" fill="#111"/>
<path d="M327.98 373.71 L330.78 373.71 L329.38 371.21 Z" fill="#111"/>
<path d="M332.42 373.71 L335.22 373.71 L333.82 371.21 Z" fill="#111"/>
<path d="M330.13 375.33 L332.93 375.33 L331.53 372.83 Z" fill="#111"/>
<path d="M328.38 377.34 L331.18 377.34 L329.78 374.84 Z" fill="#111"/>
<path d="M331.74 377.34 L334.54 377.34 L333.14 374.84 Z" fill="#111"/>
<path d="M330.13 381.38 L332.93 381.38 L331.53 378.88 Z" fill="#111"/>
<path d="M330.13 386.36 L332.93 386.36 L331.53 383.86 Z" fill="#111"/>
<path d="M327.98 389.46 L330.78 389.46 L329.38 386.96 Z" fill="#111"/>
<path d="M332.42 387.71 L335.22 387.71 L333.82 385.21 Z" fill="#111"/>
<path d="M330.13 390.40 L332.93 390.40 L331.53 387.90 Z" fill="#111"/>
<path d="M330.13 405.61 L332.93 405.61 L331.53 403.11 Z" fill="#111"/>
<line x1="321.10" y1="378.90" x2="342.10" y2="378.90" stroke="#333" stroke-width="1.0" />
<text x="193.00" y="373.00" font-size="8.5" text-anchor="middle" transform="rotate(-90 193.00 373.00)" fill="#111" >Perforin expression</text>
<text x="202.50" y="372.00" font-size="8.5" text-anchor="middle" transform="rotate(-90 202.50 372.00)" fill="#111" >( % on gated&#160;&#160;NK cells)</text>
<line x1="236.10" y1="334.50" x2="332.50" y2="334.50" stroke="#666" stroke-width="0.95" />
<text x="279.85" y="334.00" font-size="7.0" text-anchor="middle" font-weight="bold" fill="#111" style="stroke-width:0.3px;letter-spacing:0.5px">***</text>
<line x1="236.10" y1="352.50" x2="267.20" y2="352.50" stroke="#666" stroke-width="0.95" />
<text x="253.25" y="352.00" font-size="7.0" text-anchor="middle" font-weight="bold" fill="#111" style="stroke-width:0.3px;letter-spacing:0.5px">**</text>
<text x="244.20" y="423.00" font-size="8.7" text-anchor="end" transform="rotate(-45 244.20 423.00)" fill="#111" >Healthy donors</text>
<text x="252.90" y="451.90" font-size="8.7" text-anchor="middle" transform="rotate(-45 252.90 451.90)" fill="#111" >healthy control</text>
<text x="246.60" y="445.61" font-size="8.7" text-anchor="middle" transform="rotate(-45 246.60 445.61)" fill="#111" >Age-matched</text>
<text x="306.60" y="423.50" font-size="8.7" text-anchor="end" transform="rotate(-45 306.60 423.50)" fill="#111" >MPN without ruxo</text>
<text x="338.30" y="423.50" font-size="8.7" text-anchor="end" transform="rotate(-45 338.30 423.50)" fill="#111" >MPN with ruxo</text>
<line x1="394.50" y1="330.30" x2="394.50" y2="414.80" stroke="#2a2a2a" stroke-width="1.0" />
<line x1="394.00" y1="414.30" x2="520.50" y2="414.30" stroke="#2a2a2a" stroke-width="1.0" />
<line x1="391.70" y1="414.30" x2="394.50" y2="414.30" stroke="#2a2a2a" stroke-width="1.0" />
<text x="391.30" y="417.50" font-size="8.5" text-anchor="end" fill="#111" >0</text>
<line x1="391.70" y1="386.47" x2="394.50" y2="386.47" stroke="#2a2a2a" stroke-width="1.0" />
<text x="391.30" y="389.67" font-size="8.5" text-anchor="end" fill="#111" >50</text>
<line x1="391.70" y1="358.63" x2="394.50" y2="358.63" stroke="#2a2a2a" stroke-width="1.0" />
<text x="391.30" y="361.83" font-size="8.5" text-anchor="end" fill="#111" >100</text>
<line x1="391.70" y1="330.80" x2="394.50" y2="330.80" stroke="#2a2a2a" stroke-width="1.0" />
<text x="391.30" y="334.00" font-size="8.5" text-anchor="end" fill="#111" >150</text>
<line x1="409.90" y1="414.30" x2="409.90" y2="416.90" stroke="#2a2a2a" stroke-width="1.0" />
<circle cx="403.34" cy="364.15" r="1.1" fill="#111"/>
<circle cx="405.50" cy="364.42" r="1.1" fill="#111"/>
<circle cx="407.79" cy="364.42" r="1.1" fill="#111"/>
<circle cx="410.07" cy="364.69" r="1.1" fill="#111"/>
<circle cx="412.23" cy="364.69" r="1.1" fill="#111"/>
<circle cx="414.11" cy="363.75" r="1.1" fill="#111"/>
<circle cx="416.13" cy="363.34" r="1.1" fill="#111"/>
<circle cx="407.11" cy="367.38" r="1.1" fill="#111"/>
<circle cx="409.80" cy="367.79" r="1.1" fill="#111"/>
<circle cx="403.34" cy="369.13" r="1.1" fill="#111"/>
<circle cx="416.13" cy="368.86" r="1.1" fill="#111"/>
<circle cx="404.69" cy="370.75" r="1.1" fill="#111"/>
<circle cx="406.84" cy="370.88" r="1.1" fill="#111"/>
<circle cx="408.86" cy="371.15" r="1.1" fill="#111"/>
<circle cx="410.88" cy="370.88" r="1.1" fill="#111"/>
<circle cx="412.90" cy="370.48" r="1.1" fill="#111"/>
<circle cx="414.52" cy="369.80" r="1.1" fill="#111"/>
<circle cx="406.84" cy="377.61" r="1.1" fill="#111"/>
<circle cx="412.23" cy="376.53" r="1.1" fill="#111"/>
<circle cx="409.54" cy="378.96" r="1.1" fill="#111"/>
<circle cx="409.80" cy="381.51" r="1.1" fill="#111"/>
<circle cx="409.80" cy="384.34" r="1.1" fill="#111"/>
<circle cx="409.80" cy="387.97" r="1.1" fill="#111"/>
<line x1="399.40" y1="371.40" x2="420.40" y2="371.40" stroke="#333" stroke-width="1.0" />
<line x1="441.20" y1="414.30" x2="441.20" y2="416.90" stroke="#2a2a2a" stroke-width="1.0" />
<path d="M438.69 363.05 L441.49 363.05 L440.09 365.55 Z" fill="#111"/>
<path d="M440.71 364.40 L443.51 364.40 L442.11 366.90 Z" fill="#111"/>
<path d="M437.34 366.69 L440.14 366.69 L438.74 369.19 Z" fill="#111"/>
<path d="M440.03 367.36 L442.83 367.36 L441.43 369.86 Z" fill="#111"/>
<path d="M442.32 366.96 L445.12 366.96 L443.72 369.46 Z" fill="#111"/>
<path d="M439.36 380.14 L442.16 380.14 L440.76 382.64 Z" fill="#111"/>
<path d="M440.71 381.49 L443.51 381.49 L442.11 383.99 Z" fill="#111"/>
<path d="M438.42 383.24 L441.22 383.24 L439.82 385.74 Z" fill="#111"/>
<path d="M439.76 388.62 L442.56 388.62 L441.16 391.12 Z" fill="#111"/>
<path d="M439.76 404.77 L442.56 404.77 L441.16 407.27 Z" fill="#111"/>
<line x1="430.70" y1="377.90" x2="451.70" y2="377.90" stroke="#333" stroke-width="1.0" />
<line x1="472.30" y1="414.30" x2="472.30" y2="416.90" stroke="#2a2a2a" stroke-width="1.0" />
<rect x="469.09" y="363.59" width="2.2" height="2.2" fill="#111"/>
<rect x="471.51" y="363.05" width="2.2" height="2.2" fill="#111"/>
<rect x="470.43" y="364.94" width="2.2" height="2.2" fill="#111"/>
<rect x="473.80" y="365.34" width="2.2" height="2.2" fill="#111"/>
<rect x="471.78" y="370.32" width="2.2" height="2.2" fill="#111"/>
<rect x="472.86" y="371.40" width="2.2" height="2.2" fill="#111"/>
<rect x="470.03" y="373.82" width="2.2" height="2.2" fill="#111"/>
<rect x="471.11" y="381.89" width="2.2" height="2.2" fill="#111"/>
<rect x="470.17" y="396.03" width="2.2" height="2.2" fill="#111"/>
<rect x="472.86" y="394.68" width="2.2" height="2.2" fill="#111"/>
<rect x="471.11" y="403.03" width="2.2" height="2.2" fill="#111"/>
<rect x="471.11" y="405.72" width="2.2" height="2.2" fill="#111"/>
<line x1="461.80" y1="380.60" x2="482.80" y2="380.60" stroke="#333" stroke-width="1.0" />
<line x1="503.60" y1="414.30" x2="503.60" y2="416.90" stroke="#2a2a2a" stroke-width="1.0" />
<path d="M502.17 364.85 L504.97 364.85 L503.57 362.35 Z" fill="#111"/>
<path d="M503.11 366.60 L505.91 366.60 L504.51 364.10 Z" fill="#111"/>
<path d="M501.09 368.48 L503.89 368.48 L502.49 365.98 Z" fill="#111"/>
<path d="M503.51 368.48 L506.31 368.48 L504.91 365.98 Z" fill="#111"/>
<path d="M501.09 370.90 L503.89 370.90 L502.49 368.40 Z" fill="#111"/>
<path d="M503.51 370.90 L506.31 370.90 L504.91 368.40 Z" fill="#111"/>
<path d="M502.17 374.94 L504.97 374.94 L503.57 372.44 Z" fill="#111"/>
<path d="M501.09 379.65 L503.89 379.65 L502.49 377.15 Z" fill="#111"/>
<path d="M503.51 379.38 L506.31 379.38 L504.91 376.88 Z" fill="#111"/>
<path d="M502.17 385.04 L504.97 385.04 L503.57 382.54 Z" fill="#111"/>
<path d="M499.74 387.32 L502.54 387.32 L501.14 384.82 Z" fill="#111"/>
<path d="M502.17 388.13 L504.97 388.13 L503.57 385.63 Z" fill="#111"/>
<path d="M504.72 387.06 L507.52 387.06 L506.12 384.56 Z" fill="#111"/>
<path d="M502.17 396.07 L504.97 396.07 L503.57 393.57 Z" fill="#111"/>
<path d="M502.17 405.90 L504.97 405.90 L503.57 403.40 Z" fill="#111"/>
<path d="M502.17 410.61 L504.97 410.61 L503.57 408.11 Z" fill="#111"/>
<path d="M502.17 413.97 L504.97 413.97 L503.57 411.47 Z" fill="#111"/>
<line x1="493.10" y1="383.00" x2="514.10" y2="383.00" stroke="#333" stroke-width="1.0" />
<text x="366.20" y="373.00" font-size="8.5" text-anchor="middle" transform="rotate(-90 366.20 373.00)" fill="#111" >CD16 expression</text>
<text x="375.60" y="371.50" font-size="8.5" text-anchor="middle" transform="rotate(-90 375.60 371.50)" fill="#111" >( % on gated&#160;&#160;NK cells)</text>
<line x1="408.80" y1="338.50" x2="504.00" y2="338.50" stroke="#666" stroke-width="0.95" />
<text x="451.65" y="338.00" font-size="7.0" text-anchor="middle" font-weight="bold" fill="#111" style="stroke-width:0.3px;letter-spacing:0.5px">**</text>
<text x="417.60" y="421.00" font-size="8.7" text-anchor="end" transform="rotate(-45 417.60 421.00)" fill="#111" >Healthy donors</text>
<text x="426.30" y="449.60" font-size="8.7" text-anchor="middle" transform="rotate(-45 426.30 449.60)" fill="#111" >healthy control</text>
<text x="420.00" y="443.31" font-size="8.7" text-anchor="middle" transform="rotate(-45 420.00 443.31)" fill="#111" >Age-matched</text>
<text x="479.50" y="421.80" font-size="8.7" text-anchor="end" transform="rotate(-45 479.50 421.80)" fill="#111" >MPN without ruxo</text>
<text x="511.10" y="422.20" font-size="8.7" text-anchor="end" transform="rotate(-45 511.10 422.20)" fill="#111" >MPN with ruxo</text>
<line x1="50.20" y1="491.20" x2="50.20" y2="575.40" stroke="#2a2a2a" stroke-width="1.0" />
<line x1="49.70" y1="574.90" x2="176.00" y2="574.90" stroke="#2a2a2a" stroke-width="1.0" />
<line x1="47.40" y1="574.90" x2="50.20" y2="574.90" stroke="#2a2a2a" stroke-width="1.0" />
<text x="47.00" y="578.10" font-size="8.5" text-anchor="end" fill="#111" >0</text>
<line x1="47.40" y1="547.17" x2="50.20" y2="547.17" stroke="#2a2a2a" stroke-width="1.0" />
<text x="47.00" y="550.37" font-size="8.5" text-anchor="end" fill="#111" >50</text>
<line x1="47.40" y1="519.43" x2="50.20" y2="519.43" stroke="#2a2a2a" stroke-width="1.0" />
<text x="47.00" y="522.63" font-size="8.5" text-anchor="end" fill="#111" >100</text>
<line x1="47.40" y1="491.70" x2="50.20" y2="491.70" stroke="#2a2a2a" stroke-width="1.0" />
<text x="47.00" y="494.90" font-size="8.5" text-anchor="end" fill="#111" >150</text>
<line x1="66.40" y1="574.90" x2="66.40" y2="577.50" stroke="#2a2a2a" stroke-width="1.0" />
<circle cx="65.07" cy="524.15" r="1.1" fill="#111"/>
<circle cx="67.50" cy="524.15" r="1.1" fill="#111"/>
<circle cx="70.19" cy="524.69" r="1.1" fill="#111"/>
<circle cx="63.46" cy="526.44" r="1.1" fill="#111"/>
<circle cx="65.88" cy="526.44" r="1.1" fill="#111"/>
<circle cx="68.17" cy="526.44" r="1.1" fill="#111"/>
<circle cx="64.80" cy="528.46" r="1.1" fill="#111"/>
<circle cx="58.34" cy="530.07" r="1.1" fill="#111"/>
<circle cx="71.53" cy="530.48" r="1.1" fill="#111"/>
<circle cx="74.23" cy="530.48" r="1.1" fill="#111"/>
<circle cx="60.09" cy="531.42" r="1.1" fill="#111"/>
<circle cx="62.38" cy="531.42" r="1.1" fill="#111"/>
<circle cx="64.54" cy="531.42" r="1.1" fill="#111"/>
<circle cx="68.84" cy="531.42" r="1.1" fill="#111"/>
<circle cx="66.15" cy="533.17" r="1.1" fill="#111"/>
<circle cx="65.48" cy="535.19" r="1.1" fill="#111"/>
<circle cx="67.77" cy="535.46" r="1.1" fill="#111"/>
<circle cx="65.07" cy="537.88" r="1.1" fill="#111"/>
<circle cx="67.50" cy="537.88" r="1.1" fill="#111"/>
<circle cx="66.42" cy="541.92" r="1.1" fill="#111"/>
<circle cx="66.42" cy="552.69" r="1.1" fill="#111"/>
<line x1="55.90" y1="531.80" x2="76.90" y2="531.80" stroke="#333" stroke-width="1.0" />
<line x1="97.60" y1="574.90" x2="97.60" y2="577.50" stroke="#2a2a2a" stroke-width="1.0" />
<path d="M93.96 534.76 L96.76 534.76 L95.36 537.26 Z" fill="#111"/>
<path d="M96.38 534.76 L99.18 534.76 L97.78 537.26 Z" fill="#111"/>
<path d="M98.67 534.76 L101.47 534.76 L100.07 537.26 Z" fill="#111"/>
<path d="M95.71 536.51 L98.51 536.51 L97.11 539.01 Z" fill="#111"/>
<path d="M97.73 538.13 L100.53 538.13 L99.13 540.63 Z" fill="#111"/>
<path d="M95.03 538.80 L97.83 538.80 L96.43 541.30 Z" fill="#111"/>
<path d="M95.98 540.82 L98.78 540.82 L97.38 543.32 Z" fill="#111"/>
<path d="M96.38 544.18 L99.18 544.18 L97.78 546.68 Z" fill="#111"/>
<path d="M95.03 546.20 L97.83 546.20 L96.43 548.70 Z" fill="#111"/>
<path d="M97.73 546.61 L100.53 546.61 L99.13 549.11 Z" fill="#111"/>
<path d="M96.38 550.91 L99.18 550.91 L97.78 553.41 Z" fill="#111"/>
<line x1="87.10" y1="541.90" x2="108.10" y2="541.90" stroke="#333" stroke-width="1.0" />
<line x1="129.10" y1="574.90" x2="129.10" y2="577.50" stroke="#2a2a2a" stroke-width="1.0" />
<rect x="128.01" y="523.05" width="2.2" height="2.2" fill="#111"/>
<rect x="128.01" y="531.13" width="2.2" height="2.2" fill="#111"/>
<rect x="128.01" y="534.09" width="2.2" height="2.2" fill="#111"/>
<rect x="126.80" y="537.45" width="2.2" height="2.2" fill="#111"/>
<rect x="129.36" y="539.47" width="2.2" height="2.2" fill="#111"/>
<rect x="126.80" y="548.89" width="2.2" height="2.2" fill="#111"/>
<rect x="129.36" y="548.22" width="2.2" height="2.2" fill="#111"/>
<rect x="128.01" y="551.59" width="2.2" height="2.2" fill="#111"/>
<rect x="126.80" y="560.74" width="2.2" height="2.2" fill="#111"/>
<rect x="129.36" y="560.33" width="2.2" height="2.2" fill="#111"/>
<line x1="118.60" y1="544.40" x2="139.60" y2="544.40" stroke="#333" stroke-width="1.0" />
<line x1="160.40" y1="574.90" x2="160.40" y2="577.50" stroke="#2a2a2a" stroke-width="1.0" />
<path d="M157.73 539.25 L160.53 539.25 L159.13 536.75 Z" fill="#111"/>
<path d="M160.42 539.25 L163.22 539.25 L161.82 536.75 Z" fill="#111"/>
<path d="M158.13 547.32 L160.93 547.32 L159.53 544.82 Z" fill="#111"/>
<path d="M160.42 549.07 L163.22 549.07 L161.82 546.57 Z" fill="#111"/>
<path d="M157.73 554.19 L160.53 554.19 L159.13 551.69 Z" fill="#111"/>
<path d="M160.42 553.52 L163.22 553.52 L161.82 551.02 Z" fill="#111"/>
<path d="M156.38 561.59 L159.18 561.59 L157.78 559.09 Z" fill="#111"/>
<path d="M159.07 562.53 L161.87 562.53 L160.47 560.03 Z" fill="#111"/>
<path d="M161.49 561.86 L164.29 561.86 L162.89 559.36 Z" fill="#111"/>
<path d="M159.07 564.55 L161.87 564.55 L160.47 562.05 Z" fill="#111"/>
<path d="M157.32 566.97 L160.12 566.97 L158.72 564.47 Z" fill="#111"/>
<path d="M156.38 572.63 L159.18 572.63 L157.78 570.13 Z" fill="#111"/>
<path d="M159.07 571.55 L161.87 571.55 L160.47 569.05 Z" fill="#111"/>
<path d="M161.49 572.63 L164.29 572.63 L162.89 570.13 Z" fill="#111"/>
<path d="M159.07 574.65 L161.87 574.65 L160.47 572.15 Z" fill="#111"/>
<line x1="149.90" y1="558.40" x2="170.90" y2="558.40" stroke="#333" stroke-width="1.0" />
<text x="21.00" y="526.00" font-size="8.5" text-anchor="middle" transform="rotate(-90 21.00 526.00)" fill="#111" >NKp46 expression</text>
<text x="30.00" y="525.00" font-size="8.5" text-anchor="middle" transform="rotate(-90 30.00 525.00)" fill="#111" >( % on gated&#160;&#160;NK cells)</text>
<line x1="65.60" y1="493.50" x2="160.40" y2="493.50" stroke="#666" stroke-width="0.95" />
<text x="112.15" y="493.00" font-size="7.0" text-anchor="middle" font-weight="bold" fill="#111" style="stroke-width:0.3px;letter-spacing:0.5px">***</text>
<line x1="65.60" y1="500.50" x2="129.70" y2="500.50" stroke="#666" stroke-width="0.95" />
<text x="97.85" y="500.00" font-size="7.0" text-anchor="middle" font-weight="bold" fill="#111" style="stroke-width:0.3px;letter-spacing:0.5px">**</text>
<line x1="97.40" y1="507.50" x2="160.40" y2="507.50" stroke="#666" stroke-width="0.95" />
<text x="125.65" y="507.00" font-size="7.0" text-anchor="middle" font-weight="bold" fill="#111" style="stroke-width:0.3px;letter-spacing:0.5px">**</text>
<line x1="65.80" y1="516.50" x2="96.00" y2="516.50" stroke="#666" stroke-width="0.95" />
<text x="82.65" y="516.00" font-size="7.0" text-anchor="middle" font-weight="bold" fill="#111" style="stroke-width:0.3px;letter-spacing:0.5px">***</text>
<line x1="129.80" y1="516.50" x2="160.20" y2="516.50" stroke="#666" stroke-width="0.95" />
<text x="146.05" y="516.00" font-size="7.0" text-anchor="middle" font-weight="bold" fill="#111" style="stroke-width:0.3px;letter-spacing:0.5px">*</text>
<text x="73.60" y="582.20" font-size="8.7" text-anchor="end" transform="rotate(-45 73.60 582.20)" fill="#111" >Healthy donors</text>
<text x="83.10" y="610.10" font-size="8.7" text-anchor="middle" transform="rotate(-45 83.10 610.10)" fill="#111" >healthy control</text>
<text x="76.80" y="603.81" font-size="8.7" text-anchor="middle" transform="rotate(-45 76.80 603.81)" fill="#111" >Age-matched</text>
<text x="130.80" y="583.70" font-size="8.7" text-anchor="end" transform="rotate(-45 130.80 583.70)" fill="#111" >MPN without ruxo</text>
<text x="166.80" y="583.70" font-size="8.7" text-anchor="end" transform="rotate(-45 166.80 583.70)" fill="#111" >MPN with ruxo</text>
<line x1="221.30" y1="493.10" x2="221.30" y2="577.30" stroke="#2a2a2a" stroke-width="1.0" />
<line x1="220.80" y1="576.80" x2="346.80" y2="576.80" stroke="#2a2a2a" stroke-width="1.0" />
<line x1="218.50" y1="576.80" x2="221.30" y2="576.80" stroke="#2a2a2a" stroke-width="1.0" />
<text x="218.10" y="580.00" font-size="8.5" text-anchor="end" fill="#111" >0</text>
<line x1="218.50" y1="549.07" x2="221.30" y2="549.07" stroke="#2a2a2a" stroke-width="1.0" />
<text x="218.10" y="552.27" font-size="8.5" text-anchor="end" fill="#111" >50</text>
<line x1="218.50" y1="521.33" x2="221.30" y2="521.33" stroke="#2a2a2a" stroke-width="1.0" />
<text x="218.10" y="524.53" font-size="8.5" text-anchor="end" fill="#111" >100</text>
<line x1="218.50" y1="493.60" x2="221.30" y2="493.60" stroke="#2a2a2a" stroke-width="1.0" />
<text x="218.10" y="496.80" font-size="8.5" text-anchor="end" fill="#111" >150</text>
<line x1="237.50" y1="576.80" x2="237.50" y2="579.40" stroke="#2a2a2a" stroke-width="1.0" />
<circle cx="239.90" cy="522.00" r="1.1" fill="#111"/>
<circle cx="235.46" cy="523.34" r="1.1" fill="#111"/>
<circle cx="237.88" cy="523.75" r="1.1" fill="#111"/>
<circle cx="232.77" cy="525.09" r="1.1" fill="#111"/>
<circle cx="242.86" cy="525.09" r="1.1" fill="#111"/>
<circle cx="237.07" cy="525.77" r="1.1" fill="#111"/>
<circle cx="240.17" cy="526.84" r="1.1" fill="#111"/>
<circle cx="235.19" cy="527.79" r="1.1" fill="#111"/>
<circle cx="238.82" cy="528.46" r="1.1" fill="#111"/>
<circle cx="230.34" cy="530.48" r="1.1" fill="#111"/>
<circle cx="232.77" cy="530.48" r="1.1" fill="#111"/>
<circle cx="235.46" cy="530.88" r="1.1" fill="#111"/>
<circle cx="237.88" cy="530.48" r="1.1" fill="#111"/>
<circle cx="240.84" cy="530.48" r="1.1" fill="#111"/>
<circle cx="243.53" cy="530.48" r="1.1" fill="#111"/>
<circle cx="236.54" cy="532.50" r="1.1" fill="#111"/>
<circle cx="237.48" cy="535.46" r="1.1" fill="#111"/>
<circle cx="237.48" cy="537.88" r="1.1" fill="#111"/>
<circle cx="237.48" cy="543.94" r="1.1" fill="#111"/>
<circle cx="237.48" cy="554.97" r="1.1" fill="#111"/>
<line x1="227.00" y1="530.50" x2="248.00" y2="530.50" stroke="#333" stroke-width="1.0" />
<line x1="268.80" y1="576.80" x2="268.80" y2="579.40" stroke="#2a2a2a" stroke-width="1.0" />
<path d="M265.01 526.01 L267.81 526.01 L266.41 528.51 Z" fill="#111"/>
<path d="M269.73 526.01 L272.53 526.01 L271.13 528.51 Z" fill="#111"/>
<path d="M267.30 528.03 L270.10 528.03 L268.70 530.53 Z" fill="#111"/>
<path d="M266.36 530.72 L269.16 530.72 L267.76 533.22 Z" fill="#111"/>
<path d="M268.78 531.13 L271.58 531.13 L270.18 533.63 Z" fill="#111"/>
<path d="M265.01 532.74 L267.81 532.74 L266.41 535.24 Z" fill="#111"/>
<path d="M269.73 532.74 L272.53 532.74 L271.13 535.24 Z" fill="#111"/>
<path d="M267.03 533.82 L269.83 533.82 L268.43 536.32 Z" fill="#111"/>
<path d="M265.01 535.43 L267.81 535.43 L266.41 537.93 Z" fill="#111"/>
<path d="M267.44 536.11 L270.24 536.11 L268.84 538.61 Z" fill="#111"/>
<path d="M267.30 545.12 L270.10 545.12 L268.70 547.62 Z" fill="#111"/>
<line x1="258.30" y1="533.40" x2="279.30" y2="533.40" stroke="#333" stroke-width="1.0" />
<line x1="300.20" y1="576.80" x2="300.20" y2="579.40" stroke="#2a2a2a" stroke-width="1.0" />
<rect x="299.07" y="525.74" width="2.2" height="2.2" fill="#111"/>
<rect x="296.78" y="530.32" width="2.2" height="2.2" fill="#111"/>
<rect x="299.07" y="531.67" width="2.2" height="2.2" fill="#111"/>
<rect x="301.36" y="531.40" width="2.2" height="2.2" fill="#111"/>
<rect x="295.03" y="534.09" width="2.2" height="2.2" fill="#111"/>
<rect x="297.32" y="534.76" width="2.2" height="2.2" fill="#111"/>
<rect x="299.74" y="535.17" width="2.2" height="2.2" fill="#111"/>
<rect x="302.17" y="534.36" width="2.2" height="2.2" fill="#111"/>
<rect x="298.40" y="536.11" width="2.2" height="2.2" fill="#111"/>
<rect x="300.82" y="540.14" width="2.2" height="2.2" fill="#111"/>
<rect x="297.72" y="541.89" width="2.2" height="2.2" fill="#111"/>
<line x1="289.70" y1="535.50" x2="310.70" y2="535.50" stroke="#333" stroke-width="1.0" />
<line x1="331.60" y1="576.80" x2="331.60" y2="579.40" stroke="#2a2a2a" stroke-width="1.0" />
<path d="M330.13 531.58 L332.93 531.58 L331.53 529.08 Z" fill="#111"/>
<path d="M327.71 534.27 L330.51 534.27 L329.11 531.77 Z" fill="#111"/>
<path d="M332.42 534.27 L335.22 534.27 L333.82 531.77 Z" fill="#111"/>
<path d="M330.13 536.02 L332.93 536.02 L331.53 533.52 Z" fill="#111"/>
<path d="M327.98 537.63 L330.78 537.63 L329.38 535.13 Z" fill="#111"/>
<path d="M332.42 537.37 L335.22 537.37 L333.82 534.87 Z" fill="#111"/>
<path d="M330.13 539.25 L332.93 539.25 L331.53 536.75 Z" fill="#111"/>
<path d="M328.78 541.40 L331.58 541.40 L330.18 538.90 Z" fill="#111"/>
<path d="M328.78 546.79 L331.58 546.79 L330.18 544.29 Z" fill="#111"/>
<path d="M331.47 548.81 L334.27 548.81 L332.87 546.31 Z" fill="#111"/>
<path d="M329.73 554.86 L332.53 554.86 L331.13 552.36 Z" fill="#111"/>
<path d="M328.38 556.21 L331.18 556.21 L329.78 553.71 Z" fill="#111"/>
<path d="M331.47 557.82 L334.27 557.82 L332.87 555.32 Z" fill="#111"/>
<path d="M330.13 563.48 L332.93 563.48 L331.53 560.98 Z" fill="#111"/>
<line x1="321.10" y1="542.60" x2="342.10" y2="542.60" stroke="#333" stroke-width="1.0" />
<text x="192.30" y="532.00" font-size="8.5" text-anchor="middle" transform="rotate(-90 192.30 532.00)" fill="#111" >NKG2D expression</text>
<text x="201.50" y="533.00" font-size="8.5" text-anchor="middle" transform="rotate(-90 201.50 533.00)" fill="#111" >( % on gated&#160;&#160;NK cells)</text>
<line x1="236.10" y1="495.50" x2="333.00" y2="495.50" stroke="#666" stroke-width="0.95" />
<text x="282.95" y="495.00" font-size="7.0" text-anchor="middle" font-weight="bold" fill="#111" style="stroke-width:0.3px;letter-spacing:0.5px">***</text>
<line x1="236.10" y1="504.50" x2="299.70" y2="504.50" stroke="#666" stroke-width="0.95" />
<text x="268.95" y="504.00" font-size="7.0" text-anchor="middle" font-weight="bold" fill="#111" style="stroke-width:0.3px;letter-spacing:0.5px">**</text>
<line x1="236.10" y1="512.50" x2="266.00" y2="512.50" stroke="#666" stroke-width="0.95" />
<text x="253.25" y="512.00" font-size="7.0" text-anchor="middle" font-weight="bold" fill="#111" style="stroke-width:0.3px;letter-spacing:0.5px">*</text>
<line x1="269.20" y1="512.50" x2="333.00" y2="512.50" stroke="#666" stroke-width="0.95" />
<text x="298.55" y="512.00" font-size="7.0" text-anchor="middle" font-weight="bold" fill="#111" style="stroke-width:0.3px;letter-spacing:0.5px">**</text>
<text x="244.30" y="583.60" font-size="8.7" text-anchor="end" transform="rotate(-45 244.30 583.60)" fill="#111" >Healthy donors</text>
<text x="257.20" y="608.90" font-size="8.7" text-anchor="middle" transform="rotate(-45 257.20 608.90)" fill="#111" >healthy control</text>
<text x="250.90" y="602.61" font-size="8.7" text-anchor="middle" transform="rotate(-45 250.90 602.61)" fill="#111" >Age-matched</text>
<text x="306.20" y="586.40" font-size="8.7" text-anchor="end" transform="rotate(-45 306.20 586.40)" fill="#111" >MPN without ruxo</text>
<text x="337.70" y="585.90" font-size="8.7" text-anchor="end" transform="rotate(-45 337.70 585.90)" fill="#111" >MPN with ruxo</text>
</svg>
</body></html>
